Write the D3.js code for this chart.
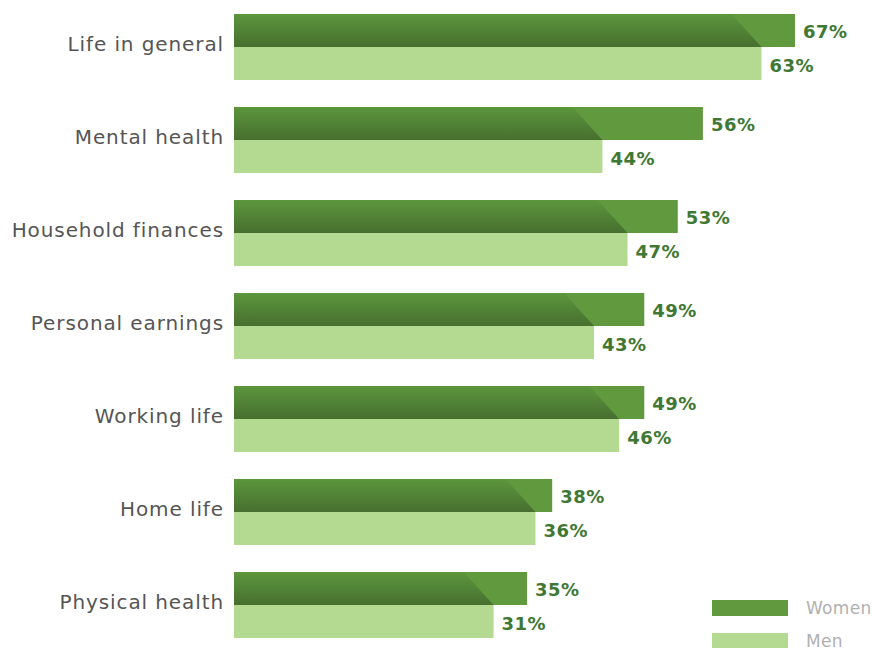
<!DOCTYPE html>
<html>
<head>
<meta charset="utf-8">
<script src="https://cdn.jsdelivr.net/npm/d3@7"></script>
<style>
  body { margin: 0; background: #fff; }
  svg { display: block; }
</style>
</head>
<body>
<div id="chart"></div>
<script>
// data
var categories = ["Life in general", "Mental health", "Household finances", "Personal earnings",
                  "Working life", "Home life", "Physical health"];
var women = [67, 56, 53, 49, 49, 38, 35];
var men = [63, 44, 47, 43, 46, 36, 31];
var series = ["Women", "Men"];
var colors = ["#61993f", "#b4da92"];

var width = 872, height = 648;
var font = "'DejaVu Sans', sans-serif";

var svg = d3.select("#chart")
  .append("svg")
    .attr("width", width)
    .attr("height", height);

// gradient for the shadow on the women bars
var defs = svg.append("defs");
var grad = defs.append("linearGradient")
    .attr("id", "shade")
    .attr("x1", 0).attr("y1", 0).attr("x2", 0).attr("y2", 1);
grad.append("stop").attr("offset", "0%").attr("stop-color", "#5c963d");
grad.append("stop").attr("offset", "100%").attr("stop-color", "#476f2f");

var x = d3.scaleLinear()
  .domain([0, 67])
  .range([234, 795]);

var y = d3.scaleBand()
  .domain(categories)
  .range([14, 638])
  .paddingInner(27 / 93)
  .paddingOuter(0);

var ySub = d3.scaleBand()
  .domain(series)
  .range([0, y.bandwidth()]);

var rows = categories.map(function(c, i) {
  return { cat: c, women: women[i], men: men[i] };
});

var g = svg.append("g")
  .selectAll("g")
  .data(rows)
  .enter()
  .append("g")
    .attr("transform", function(d) { return "translate(0," + y(d.cat) + ")"; });

// women bar
g.append("rect")
  .attr("x", x(0))
  .attr("y", ySub("Women"))
  .attr("width", function(d) { return x(d.women) - x(0); })
  .attr("height", ySub.bandwidth())
  .style("fill", colors[0]);

// shadow cast toward the end of the men bar
g.append("path")
  .attr("d", function(d) {
    var top = ySub("Women"), bot = top + ySub.bandwidth();
    var e = x(d.men);
    return "M" + x(0) + "," + top + "L" + (e - 30) + "," + top +
           "L" + e + "," + bot + "L" + x(0) + "," + bot + "Z";
  })
  .style("fill", "url(#shade)");

// men bar
g.append("rect")
  .attr("x", x(0))
  .attr("y", ySub("Men"))
  .attr("width", function(d) { return x(d.men) - x(0); })
  .attr("height", ySub.bandwidth())
  .style("fill", colors[1]);

// value labels
g.append("text")
  .attr("x", function(d) { return x(d.women) + 8; })
  .attr("y", ySub("Women") + ySub.bandwidth() / 2 + 1)
  .attr("dy", "0.35em")
  .style("font-family", font)
  .style("font-weight", "bold")
  .style("font-size", "18px")
  .style("letter-spacing", "0.5px")
  .style("fill", "#3f7834")
  .text(function(d) { return d.women + "%"; });

g.append("text")
  .attr("x", function(d) { return x(d.men) + 8; })
  .attr("y", ySub("Men") + ySub.bandwidth() / 2 + 2)
  .attr("dy", "0.35em")
  .style("font-family", font)
  .style("font-weight", "bold")
  .style("font-size", "18px")
  .style("letter-spacing", "0.5px")
  .style("fill", "#3f7834")
  .text(function(d) { return d.men + "%"; });

// category labels
g.append("text")
  .attr("x", 224)
  .attr("y", y.bandwidth() / 2 - 3)
  .attr("dy", "0.35em")
  .style("text-anchor", "end")
  .style("font-family", font)
  .style("font-size", "20px")
  .style("letter-spacing", "0.9px")
  .style("fill", "#555555")
  .text(function(d) { return d.cat; });

// legend
var legend = svg.append("g")
  .selectAll("g")
  .data(series)
  .enter()
  .append("g")
    .attr("transform", function(d, i) { return "translate(712," + (600 + i * 33) + ")"; });

legend.append("rect")
  .attr("width", 76)
  .attr("height", 16)
  .style("fill", function(d, i) { return colors[i]; });

legend.append("text")
  .attr("x", 94)
  .attr("y", 8)
  .attr("dy", "0.35em")
  .style("font-family", font)
  .style("font-size", "17px")
  .style("letter-spacing", "0.3px")
  .style("fill", "#b0b0b0")
  .text(function(d) { return d; });
</script>
</body>
</html>
